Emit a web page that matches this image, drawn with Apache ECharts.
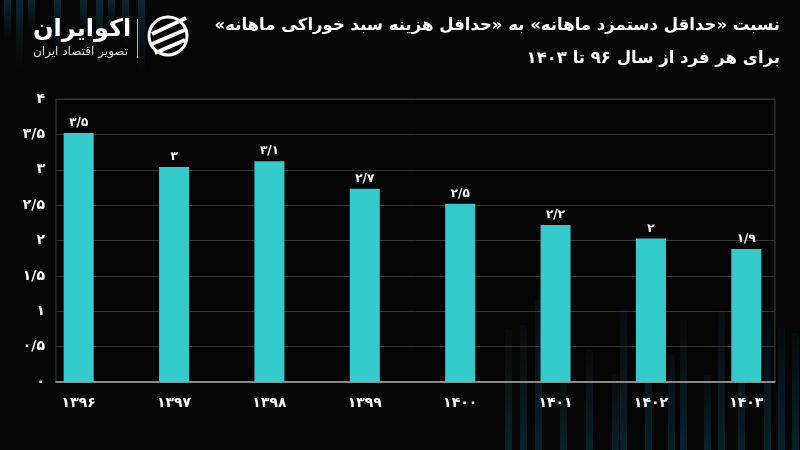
<!DOCTYPE html>
<html><head><meta charset="utf-8">
<script src="https://cdn.jsdelivr.net/npm/echarts@6/dist/echarts.min.js"></script>
<style>html,body{margin:0;padding:0;background:#050505;}#c{width:800px;height:450px;}</style>
</head><body><div id="c"></div>
<script>
const categories = ['۱۳۹۶','۱۳۹۷','۱۳۹۸','۱۳۹۹','۱۴۰۰','۱۴۰۱','۱۴۰۲','۱۴۰۳'];
const values = [3.52, 3.04, 3.12, 2.73, 2.52, 2.22, 2.03, 1.88];
const yMin = 0, yMax = 4, yInterval = 0.5;
const titleLine1 = 'نسبت «حداقل دستمزد ماهانه» به «حداقل هزینه سبد خوراکی ماهانه»';
const titleLine2 = 'برای هر فرد از سال ۹۶ تا ۱۴۰۳';

const FA = '۰۱۲۳۴۵۶۷۸۹';
function toFa(n){
  let s = (Math.round(n*10)/10).toString();
  return s.replace(/[0-9]/g, d => FA[+d]).replace('.', '/');
}
const RLM = '\u200F';
const FONT = 'DejaVu Sans';
const deco = [];
const topSpec = [[4,40],[16,70],[28,30],[54,55],[80,35],[96,60],[108,25],[122,45],[138,75]];
topSpec.forEach(d => deco.push({type:'rect', z:-10, shape:{x:d[0], y:0, width:7, height:d[1]},
  style:{fill:new echarts.graphic.LinearGradient(0,0,0,1,[{offset:0,color:'#0c2630'},{offset:1,color:'rgba(12,38,48,0)'}])}}));
const botSpec = [[505,330],[520,325],[535,300],[560,365],[586,350],[612,375],[620,310],[645,333],[668,355],[680,320],
  [704,375],[718,310],[738,343],[764,320],[778,328],[792,333]];
botSpec.forEach(d => deco.push({type:'rect', z:-10, shape:{x:d[0], y:d[1], width:7, height:450-d[1]},
  style:{fill:new echarts.graphic.LinearGradient(0,0,0,1,[{offset:0,color:'rgba(10,32,40,0.25)'},{offset:1,color:'#0a2028'}])}}));

const chart = echarts.init(document.getElementById('c'));
chart.setOption({
  backgroundColor:'#050505',
  animation:false,
  graphic: deco.concat([
    {type:'text', right:20, top:17, style:{text:RLM+titleLine1+RLM, fill:'#ffffff', font:'bold 16.5px "'+FONT+'"', textAlign:'right'}},
    {type:'text', right:20, top:50, style:{text:RLM+titleLine2+RLM, fill:'#ffffff', font:'bold 16.5px "'+FONT+'"', textAlign:'right'}},
    {type:'text', left:33, top:18, style:{text:'اکوایران', fill:'#ffffff', font:'bold 24px "'+FONT+'"'}},
    {type:'text', left:33, top:46, style:{text:'تصویر اقتصاد ایران', fill:'#dddddd', font:'12px "'+FONT+'"'}},
    {type:'rect', shape:{x:137, y:19, width:1, height:39}, style:{fill:'#bbbbbb'}},
    {type:'circle', shape:{cx:168, cy:36, r:19}, style:{fill:'none', stroke:'#ffffff', lineWidth:3}},
    {type:'line', shape:{x1:152, y1:34, x2:186, y2:18}, style:{stroke:'#ffffff', lineWidth:4}},
    {type:'line', shape:{x1:152, y1:44, x2:187, y2:29}, style:{stroke:'#ffffff', lineWidth:4}},
    {type:'line', shape:{x1:155, y1:53, x2:185, y2:40}, style:{stroke:'#ffffff', lineWidth:4}}
  ]),
  grid:[
    {left:56, right:25, top:99, bottom:68, show:true, borderColor:'#3a3a3a', borderWidth:1},
    {left:31, right:6, top:99, bottom:68}
  ],
  xAxis:[
    {gridIndex:0, type:'category', data:categories, axisLabel:{show:false}, axisTick:{show:false},
     axisLine:{lineStyle:{color:'#aaaaaa', width:1.5}}},
    {gridIndex:1, type:'category', data:categories, axisTick:{show:false}, axisLine:{show:false},
     axisLabel:{color:'#ffffff', fontFamily:FONT, fontWeight:'bold', fontSize:14, margin:14}}
  ],
  yAxis:[
    {gridIndex:0, type:'value', min:yMin, max:yMax, interval:yInterval,
     axisLabel:{color:'#ffffff', fontFamily:FONT, fontWeight:'bold', fontSize:14, margin:11, formatter:v=>toFa(v)},
     axisLine:{show:false}, axisTick:{show:false},
     splitLine:{lineStyle:{color:'#333333', width:1}}},
    {gridIndex:1, type:'value', min:yMin, max:yMax, interval:yInterval, show:false, splitLine:{show:false}}
  ],
  series:[{
    type:'bar', xAxisIndex:1, yAxisIndex:1, data:values, barWidth:30,
    itemStyle:{color:'#35cbcd'},
    label:{show:true, position:'top', distance:4, color:'#ffffff', fontFamily:FONT, fontWeight:'bold', fontSize:12,
      formatter:p=>toFa(p.value)}
  }]
});
</script></body></html>
